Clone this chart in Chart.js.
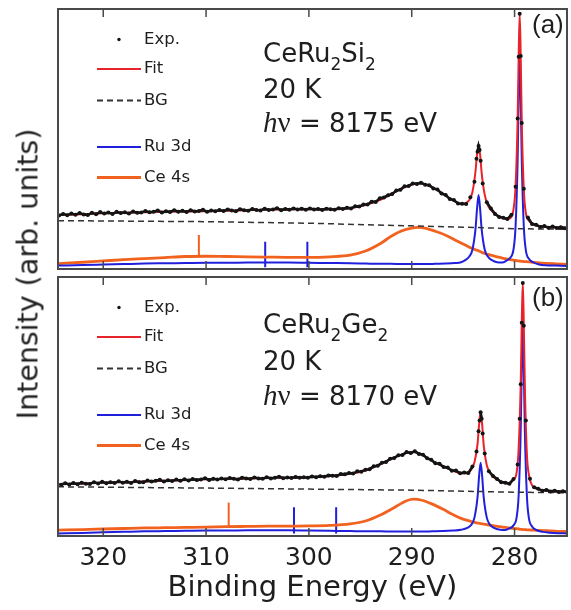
<!DOCTYPE html>
<html>
<head>
<meta charset="utf-8">
<script src="https://cdn.jsdelivr.net/npm/chart.js@4.4.0/dist/chart.umd.min.js"></script>
<style>
  body { margin: 0; background: #fff; }
  #fig { position: relative; width: 571px; height: 610px; background: #fff; overflow: hidden; }
  .panel { position: absolute; left: 0; width: 571px; }
  #panelA { top: 0; height: 273px; }
  #panelB { top: 273px; height: 337px; }
  #ytitle {
    position: absolute; left: 28px; top: 274px;
    transform: translate(-50%, -50%) rotate(-90deg);
    font: 28.5px "DejaVu Sans", sans-serif; color: #222; white-space: nowrap;
  }
</style>
</head>
<body>
<div id="fig">
  <div id="panelA" class="panel"><canvas id="canvasA"></canvas></div>
  <div id="panelB" class="panel"><canvas id="canvasB"></canvas></div>
  <div id="ytitle">Intensity (arb. units)</div>
</div>
<script>
// ---------------------------------------
// HAXPES Ce 4s / Ru 3d region, CeRu2Si2 (a) and CeRu2Ge2 (b)
// ---------------------------------------

const tickValues = [320, 310, 300, 290, 280];
const xMin = 274.9;
const xMax = 324.4;

// background (Shirley) is sampled on a coarse grid
const bgEnergy = [324.4, 310, 300, 290, 285, 280, 274.9];

// ---- panel (a) CeRu2Si2 ----
const compoundA = 'CeRu2Si2';
const temperatureA = '20 K';
const photonA = '8175';
const tagA = '(a)';

const energyA = [
  324.4, 322, 320, 318, 316, 314, 312, 310, 308, 306,
  304, 302, 300, 298, 296, 294.5, 293, 292, 291, 290,
  289.4, 288.6, 287.7, 286.7, 285.8, 285.2, 284.8, 284.4, 284.1, 283.8,
  283.65, 283.5, 283.35, 283.2, 282.9, 282.6, 282.2, 281.7, 281.2, 280.8,
  280.4, 280.1, 279.9, 279.7, 279.6, 279.5, 279.4, 279.3, 279.1, 278.9,
  278.6, 278.2, 277.6, 277.0, 276.0, 274.9,
];
const fitA = [
  20.8, 21.1, 21.4, 21.6, 21.8, 22.0, 22.1, 22.2, 22.4, 22.6,
  22.8, 22.9, 23.0, 23.0, 23.4, 24.6, 26.7, 28.8, 30.9, 32.4,
  33.0, 32.5, 30.8, 28.2, 26.0, 24.9, 25.2, 26.5, 29.5, 37.5,
  44.0, 47.4, 44.0, 37.0, 28.5, 24.5, 22.3, 20.6, 19.8, 19.3,
  19.6, 23.0, 32.0, 57.5, 82.0, 98.3, 81.5, 56.5, 30.5, 21.5,
  18.6, 17.2, 16.5, 16.2, 16.0, 15.9,
];
const ru3dA = [
  1.3, 1.5, 1.7, 1.9, 2.1, 2.2, 2.3, 2.4, 2.4, 2.5,
  2.5, 2.5, 2.4, 2.3, 2.2, 2.1, 2.0, 2.0, 1.9, 1.9,
  1.9, 1.9, 2.0, 2.1, 2.3, 2.6, 3.4, 4.8, 7.4, 15.3,
  23.1, 28.5, 23.1, 15.3, 7.4, 4.8, 3.4, 2.6, 2.5, 3.2,
  4.4, 7.6, 16.5, 42.0, 66.0, 82.3, 66.0, 42.0, 16.3, 7.2,
  3.9, 2.6, 1.7, 1.4, 1.3, 1.2,
];
const ce4sA = [
  2.1, 2.6, 3.1, 3.6, 4.0, 4.4, 4.8, 4.9, 4.8, 4.7,
  4.6, 4.5, 4.5, 4.7, 5.3, 6.9, 9.9, 12.6, 14.6, 15.7,
  16.0, 15.6, 14.5, 13.0, 11.2, 10.0, 9.2, 8.4, 7.9, 7.4,
  7.2, 7.0, 6.7, 6.4, 6.0, 5.6, 5.2, 4.7, 4.2, 3.9,
  3.6, 3.4, 3.3, 3.15, 3.1, 3.05, 3.0, 2.95, 2.85, 2.8,
  2.7, 2.55, 2.35, 2.2, 2.0, 1.8,
];
const bgA = [18.6, 18.2, 17.6, 16.6, 16.1, 15.5, 15.3];

const expEnergyA = [
  324.3, 323.9, 323.5, 323.1, 322.7, 322.3, 321.9, 321.5, 321.1, 320.7,
  320.3, 319.9, 319.5, 319.1, 318.7, 318.3, 317.9, 317.5, 317.1, 316.7,
  316.3, 315.9, 315.5, 315.1, 314.7, 314.3, 313.9, 313.5, 313.1, 312.7,
  312.3, 311.9, 311.5, 311.1, 310.7, 310.3, 309.9, 309.5, 309.1, 308.7,
  308.3, 307.9, 307.5, 307.1, 306.7, 306.3, 305.9, 305.5, 305.1, 304.7,
  304.3, 303.9, 303.5, 303.1, 302.7, 302.3, 301.9, 301.5, 301.1, 300.7,
  300.3, 299.9, 299.5, 299.1, 298.7, 298.3, 297.9, 297.5, 297.1, 296.7,
  296.3, 295.9, 295.5, 295.1, 294.7, 294.3, 293.9, 293.5, 293.1, 292.7,
  292.3, 291.9, 291.5, 291.1, 290.7, 290.3, 289.9, 289.5, 289.1, 288.7,
  288.3, 287.9, 287.5, 287.1, 286.7, 286.3, 285.9, 285.5, 285.1, 284.7,
  284.3, 283.9, 283.7, 283.6, 283.5, 283.4, 283.3, 283.1, 282.7, 282.3,
  281.9, 281.5, 281.1, 280.7, 280.3, 279.9, 279.7, 279.6, 279.5, 279.4,
  279.3, 279.1, 278.7, 278.3, 277.9, 277.5, 277.1, 276.7, 276.3, 275.9,
  275.5, 275.1,
];
const expA = [
  20.6, 21.2, 20.7, 21.3, 20.9, 21.5, 21.0, 20.8, 21.6, 21.1,
  21.9, 21.3, 21.7, 21.2, 22.0, 21.5, 21.8, 21.3, 22.1, 21.6,
  21.7, 22.3, 21.8, 22.0, 22.5, 21.7, 22.2, 21.9, 22.6, 22.0,
  22.4, 21.9, 22.6, 22.1, 22.3, 22.8, 22.0, 22.5, 22.2, 22.7,
  22.3, 22.9, 22.5, 22.2, 23.0, 22.6, 22.4, 23.1, 22.7, 22.5,
  23.2, 22.7, 22.9, 23.4, 22.6, 23.1, 22.8, 23.3, 22.9, 23.2,
  22.8, 23.3, 22.9, 23.1, 22.7, 23.2, 23.0, 22.8, 23.4, 23.1,
  23.6, 23.3, 24.1, 24.0, 24.8, 24.8, 25.9, 25.8, 27.2, 27.5,
  28.4, 28.8, 30.2, 30.5, 31.8, 31.9, 32.9, 32.7, 33.2, 32.4,
  32.2, 31.0, 30.6, 29.0, 28.5, 26.9, 26.5, 25.2, 25.1, 25.0,
  27.6, 33.6, 42.4, 45.1, 47.3, 45.8, 41.6, 32.9, 25.7, 23.3,
  21.2, 20.0, 19.7, 19.2, 20.9, 31.6, 57.9, 81.6, 98.2, 81.9,
  56.2, 30.9, 19.8, 17.3, 17.0, 16.2, 16.5, 15.9, 16.3, 15.8,
  16.1, 15.7,
];
// plasmon-loss markers: energy, and the [bottom, top] of each marker
const ceLossA = [310.7];
const ceLossRangeA = [4.8, 13.1];
const ruLossA = [304.25, 300.15];
const ruLossRangeA = [0.7, 10.5];

// ---- panel (b) CeRu2Ge2 ----
const compoundB = 'CeRu2Ge2';
const temperatureB = '20 K';
const photonB = '8170';
const tagB = '(b)';

const energyB = [
  324.4, 322, 320, 318, 316, 314, 312, 310, 308, 306,
  304, 302, 300, 298, 296, 294.5, 293, 292, 291, 290.5,
  289.8, 289.0, 288.0, 287.0, 286.0, 285.2, 284.6, 284.2, 283.9, 283.6,
  283.45, 283.3, 283.15, 283.0, 282.7, 282.4, 282.0, 281.4, 280.9, 280.5,
  280.1, 279.8, 279.6, 279.4, 279.3, 279.2, 279.1, 279.0, 278.8, 278.6,
  278.3, 277.9, 277.3, 276.6, 275.8, 274.9,
];
const fitB = [
  20.0, 20.3, 20.6, 20.8, 21.0, 21.3, 21.6, 21.9, 22.0, 22.2,
  22.4, 22.5, 22.7, 23.1, 24.0, 25.3, 27.8, 29.8, 31.4, 32.1,
  32.4, 31.4, 28.9, 27.0, 25.3, 24.2, 24.2, 25.8, 28.5, 35.5,
  43.0, 48.0, 43.0, 35.0, 27.3, 24.5, 22.6, 21.2, 20.5, 20.4,
  21.8, 24.5, 34.0, 59.0, 82.0, 98.0, 81.5, 58.0, 31.5, 23.5,
  19.6, 18.3, 17.7, 17.4, 17.2, 17.1,
];
const ru3dB = [
  1.0, 1.2, 1.4, 1.6, 1.8, 1.9, 2.0, 2.1, 2.1, 2.2,
  2.2, 2.2, 2.1, 2.0, 1.9, 1.8, 1.8, 1.7, 1.7, 1.7,
  1.7, 1.7, 1.8, 1.9, 2.1, 2.4, 3.1, 4.4, 7.1, 15.0,
  23.0, 28.3, 23.0, 15.0, 7.1, 4.4, 3.1, 2.4, 2.3, 2.9,
  4.1, 7.2, 15.9, 41.2, 64.9, 80.8, 64.5, 40.8, 15.5, 6.8,
  3.7, 2.4, 1.6, 1.3, 1.1, 1.0,
];
const ce4sB = [
  2.3, 2.5, 2.7, 2.9, 3.1, 3.2, 3.3, 3.4, 3.6, 3.7,
  3.8, 3.8, 3.9, 4.1, 4.7, 5.8, 8.2, 10.3, 12.6, 13.6,
  14.2, 13.8, 12.3, 10.4, 8.3, 6.8, 6.0, 5.6, 5.3, 5.0,
  4.9, 4.8, 4.7, 4.6, 4.4, 4.2, 3.9, 3.6, 3.3, 3.1,
  2.9, 2.8, 2.7, 2.6, 2.55, 2.5, 2.5, 2.45, 2.4, 2.35,
  2.3, 2.2, 2.1, 1.95, 1.8, 1.7,
];
const bgB = [19.0, 18.5, 18.1, 17.7, 17.3, 16.9, 16.7];

const expEnergyB = [
  324.1, 323.7, 323.3, 322.9, 322.5, 322.1, 321.7, 321.3, 320.9, 320.5,
  320.1, 319.7, 319.3, 318.9, 318.5, 318.1, 317.7, 317.3, 316.9, 316.5,
  316.1, 315.7, 315.3, 314.9, 314.5, 314.1, 313.7, 313.3, 312.9, 312.5,
  312.1, 311.7, 311.3, 310.9, 310.5, 310.1, 309.7, 309.3, 308.9, 308.5,
  308.1, 307.7, 307.3, 306.9, 306.5, 306.1, 305.7, 305.3, 304.9, 304.5,
  304.1, 303.7, 303.3, 302.9, 302.5, 302.1, 301.7, 301.3, 300.9, 300.5,
  300.1, 299.7, 299.3, 298.9, 298.5, 298.1, 297.7, 297.3, 296.9, 296.5,
  296.1, 295.7, 295.3, 294.9, 294.5, 294.1, 293.7, 293.3, 292.9, 292.5,
  292.1, 291.7, 291.3, 290.9, 290.5, 290.1, 289.7, 289.3, 288.9, 288.5,
  288.1, 287.7, 287.3, 286.9, 286.5, 286.1, 285.7, 285.3, 284.9, 284.5,
  284.1, 283.7, 283.5, 283.4, 283.3, 283.2, 283.1, 282.9, 282.5, 282.1,
  281.7, 281.3, 280.9, 280.5, 280.1, 279.7, 279.5, 279.4, 279.3, 279.2,
  279.1, 278.9, 278.5, 278.1, 277.7, 277.3, 276.9, 276.5, 276.1, 275.7,
  275.3, 274.9,
];
const expB = [
  19.8, 20.4, 19.9, 20.5, 20.0, 20.6, 20.2, 20.1, 20.8, 20.3,
  20.9, 20.4, 20.8, 20.5, 21.1, 20.6, 20.9, 20.5, 21.2, 20.8,
  20.8, 21.4, 21.0, 21.3, 21.7, 21.0, 21.5, 21.2, 21.8, 21.3,
  21.9, 21.4, 22.0, 21.6, 21.8, 22.3, 21.6, 22.1, 21.8, 22.2,
  21.9, 22.4, 22.1, 21.8, 22.5, 22.2, 22.0, 22.6, 22.2, 22.1,
  22.7, 22.2, 22.5, 22.9, 22.3, 22.6, 22.4, 22.8, 22.5, 22.7,
  22.5, 23.0, 22.7, 23.1, 22.9, 23.4, 23.3, 23.2, 23.9, 23.8,
  24.3, 24.1, 25.0, 24.8, 25.6, 25.8, 26.9, 27.1, 28.3, 28.6,
  29.8, 30.1, 31.2, 31.3, 32.4, 32.0, 32.7, 31.7, 31.4, 30.0,
  29.4, 28.1, 27.9, 26.6, 26.4, 25.2, 25.3, 24.2, 24.5, 24.3,
  26.8, 32.6, 40.4, 44.6, 47.8, 45.3, 39.6, 31.9, 25.0, 23.2,
  22.0, 20.8, 20.6, 20.2, 22.0, 27.6, 45.3, 58.6, 82.3, 97.7,
  81.2, 44.6, 22.1, 18.8, 18.2, 17.5, 17.8, 17.2, 17.5, 17.0,
  17.3, 17.0,
];
const ceLossB = [307.8];
const ceLossRangeB = [3.6, 12.9];
const ruLossB = [301.45, 297.35];
const ruLossRangeB = [1.0, 11.1];

// ---- styles ----
const TEXT = '#1e1e1e';
const RED = '#e8232b';
const BLUE = '#2020dc';
const ORANGE = '#f2621f';
const FRAME = '#4a4a4a';
const EXP = '#141414';
const FONT = '"DejaVu Sans", sans-serif';

Chart.defaults.font.family = FONT;

const legendItems = [
  { label: 'Exp.', kind: 'dot', color: EXP },
  { label: 'Fit', kind: 'line', color: RED },
  { label: 'BG', kind: 'dash', color: '#333' },
  { label: 'Ru 3d', kind: 'line', color: BLUE },
  { label: 'Ce 4s', kind: 'line', color: ORANGE },
];
const legendRows = [30.5, 60, 91.5, 138, 168.5];

const toPoints = (xs, ys) => xs.map((x, i) => ({ x: x, y: ys[i] }));
// vertical marker sticks, separated by gaps
const toSticks = (xs, range) =>
  xs.flatMap((x) => [{ x: x, y: range[0] }, { x: x, y: range[1] }, { x: x, y: null }]);

// 測定点の帯: 緩やかな区間は点をつなぎ、急なピーク斜面では点だけを見せる
const expSegmentColor = (c) =>
  Math.abs(c.p1.parsed.y - c.p0.parsed.y) > 2.5 ? 'rgba(0,0,0,0)' : EXP;

// 下付き数字を含む化学式
function drawFormula(ctx, text, x, y) {
  text.split(/(\d)/).filter(Boolean).forEach((part) => {
    const sub = /^\d$/.test(part);
    ctx.font = sub ? `17px ${FONT}` : `26px ${FONT}`;
    ctx.fillText(part, x, sub ? y + 8 : y);
    x += ctx.measureText(part).width;
  });
}

const framePlugin = {
  id: 'frame',
  afterDatasetsDraw(chart) {
    const { ctx, chartArea: a } = chart;
    const xScale = chart.scales.x;
    ctx.save();
    ctx.strokeStyle = FRAME;
    ctx.lineWidth = 2;
    ctx.strokeRect(a.left, a.top, a.right - a.left, a.bottom - a.top);
    ctx.lineWidth = 1.5;
    ctx.beginPath();
    tickValues.forEach((v) => {
      const px = xScale.getPixelForValue(v);
      ctx.moveTo(px, a.top);
      ctx.lineTo(px, a.top + 8);
      ctx.moveTo(px, a.bottom);
      ctx.lineTo(px, a.bottom - 8);
    });
    ctx.stroke();
    ctx.restore();
  },
};

const panelTextPlugin = {
  id: 'panelText',
  afterDraw(chart, args, opts) {
    const { ctx, chartArea: a } = chart;
    ctx.save();

    // legend
    ctx.font = `16.5px ${FONT}`;
    ctx.textAlign = 'left';
    ctx.textBaseline = 'middle';
    legendItems.forEach((item, i) => {
      const y = a.top + legendRows[i];
      if (item.kind === 'dot') {
        ctx.fillStyle = item.color;
        ctx.beginPath();
        ctx.arc(119, y, 1.7, 0, Math.PI * 2);
        ctx.fill();
      } else {
        ctx.strokeStyle = item.color;
        ctx.lineWidth = item.color === ORANGE ? 2.8 : 2;
        ctx.setLineDash(item.kind === 'dash' ? [6, 4] : []);
        ctx.beginPath();
        ctx.moveTo(97, y);
        ctx.lineTo(141, y);
        ctx.stroke();
        ctx.setLineDash([]);
      }
      ctx.fillStyle = TEXT;
      ctx.fillText(item.label, 144, y);
    });

    // sample, temperature, photon energy
    ctx.textBaseline = 'alphabetic';
    ctx.fillStyle = TEXT;
    const x0 = 263;
    drawFormula(ctx, opts.compound, x0, a.top + opts.lines[0]);
    ctx.font = `26px ${FONT}`;
    ctx.fillText(opts.temperature, x0, a.top + opts.lines[1]);
    let x = x0;
    const y3 = a.top + opts.lines[2];
    ctx.font = 'italic 29px "Liberation Serif", serif';
    ctx.fillText('h', x, y3);
    x += ctx.measureText('h').width;
    ctx.font = '29px "Liberation Serif", serif';
    ctx.fillText('ν', x, y3);
    x += ctx.measureText('ν').width;
    ctx.font = `26px ${FONT}`;
    ctx.fillText(` = ${opts.photon} eV`, x, y3);

    // panel tag
    ctx.font = '26px "Liberation Sans", Arial, sans-serif';
    ctx.textBaseline = 'middle';
    ctx.fillText(opts.tag, 532, a.top + opts.tagY);
    ctx.restore();
  },
};

function makePanel(canvasId, p) {
  const ctx = document.getElementById(canvasId).getContext('2d');
  return new Chart(ctx, {
    type: 'line',
    data: {
      datasets: [
        {
          label: 'Exp.',
          data: toPoints(p.expEnergy, p.exp),
          borderColor: EXP,
          borderWidth: 2.6,
          segment: { borderColor: expSegmentColor },
          pointRadius: 2,
          pointBackgroundColor: EXP,
          pointBorderWidth: 0,
        },
        {
          label: 'Fit',
          data: toPoints(p.energy, p.fit),
          borderColor: RED,
          borderWidth: 2,
          pointRadius: 0,
          cubicInterpolationMode: 'monotone',
        },
        {
          label: 'BG',
          data: toPoints(bgEnergy, p.bg),
          borderColor: '#333',
          borderWidth: 1.5,
          borderDash: [6, 4],
          pointRadius: 0,
        },
        {
          label: 'Ru 3d',
          data: toPoints(p.energy, p.ru3d),
          borderColor: BLUE,
          borderWidth: 2,
          pointRadius: 0,
          cubicInterpolationMode: 'monotone',
        },
        {
          label: 'Ce 4s',
          data: toPoints(p.energy, p.ce4s),
          borderColor: ORANGE,
          borderWidth: 2.8,
          pointRadius: 0,
          cubicInterpolationMode: 'monotone',
        },
        {
          label: 'Ru 3d loss',
          data: toSticks(p.ruLoss, p.ruLossRange),
          borderColor: BLUE,
          borderWidth: 2,
          pointRadius: 0,
        },
        {
          label: 'Ce 4s loss',
          data: toSticks(p.ceLoss, p.ceLossRange),
          borderColor: ORANGE,
          borderWidth: 2,
          pointRadius: 0,
        },
      ],
    },
    options: {
      responsive: true,
      maintainAspectRatio: false,
      animation: false,
      events: [],
      layout: { padding: p.padding },
      scales: {
        x: {
          type: 'linear',
          reverse: true,
          min: xMin,
          max: xMax,
          display: p.showAxis,
          afterBuildTicks: (scale) => {
            scale.ticks = tickValues.map((v) => ({ value: v }));
          },
          afterFit: (scale) => {
            if (p.showAxis) scale.height = 74;
          },
          grid: { display: false, drawTicks: false },
          border: { display: false },
          ticks: { padding: 7, color: TEXT, font: { size: 25 } },
          title: {
            display: true,
            text: 'Binding Energy (eV)',
            color: TEXT,
            font: { size: 29 },
            padding: { top: 0, bottom: 4 },
          },
        },
        y: { display: false, min: 0, max: 100 },
      },
      plugins: {
        legend: { display: false },
        tooltip: { enabled: false },
        panelText: {
          compound: p.compound,
          temperature: p.temperature,
          photon: p.photon,
          tag: p.tag,
          lines: p.lines,
          tagY: p.tagY,
        },
      },
    },
    plugins: [framePlugin, panelTextPlugin],
  });
}

makePanel('canvasA', {
  energy: energyA, fit: fitA, ru3d: ru3dA, ce4s: ce4sA, bg: bgA,
  expEnergy: expEnergyA, exp: expA,
  ceLoss: ceLossA, ceLossRange: ceLossRangeA, ruLoss: ruLossA, ruLossRange: ruLossRangeA,
  compound: compoundA, temperature: temperatureA, photon: photonA, tag: tagA,
  showAxis: false,
  padding: { left: 58, right: 2, top: 9, bottom: 4 },
  lines: [52.7, 89.3, 122.7],
  tagY: 17,
});

makePanel('canvasB', {
  energy: energyB, fit: fitB, ru3d: ru3dB, ce4s: ce4sB, bg: bgB,
  expEnergy: expEnergyB, exp: expB,
  ceLoss: ceLossB, ceLossRange: ceLossRangeB, ruLoss: ruLossB, ruLossRange: ruLossRangeB,
  compound: compoundB, temperature: temperatureB, photon: photonB, tag: tagB,
  showAxis: true,
  padding: { left: 58, right: 2, top: 4, bottom: 0 },
  lines: [56.3, 93, 128],
  tagY: 22,
});
</script>
</body>
</html>
